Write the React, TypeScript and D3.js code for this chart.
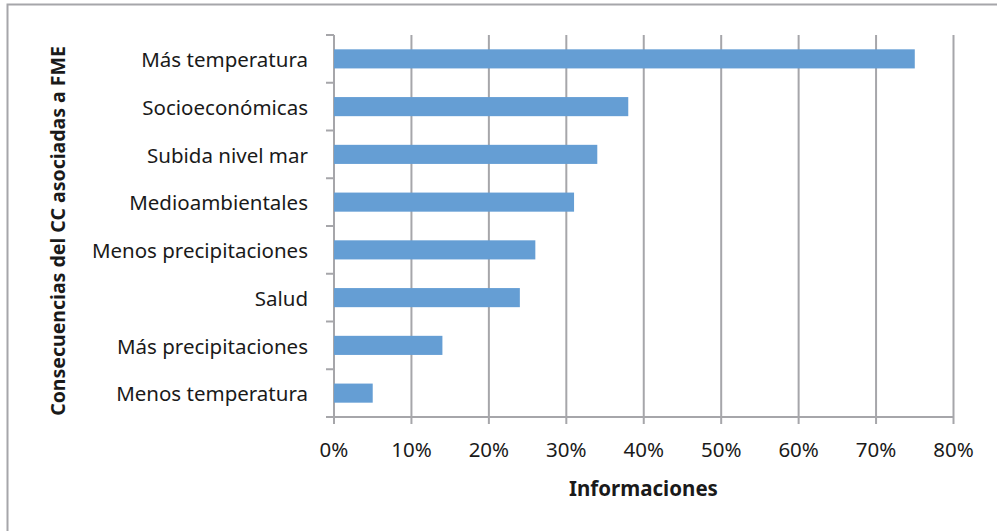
import React from "react";
import * as d3 from "d3";

const categories = [
  "Más temperatura",
  "Socioeconómicas",
  "Subida nivel mar",
  "Medioambientales",
  "Menos precipitaciones",
  "Salud",
  "Más precipitaciones",
  "Menos temperatura",
];
const values = [0.75, 0.38, 0.34, 0.31, 0.26, 0.24, 0.14, 0.05];
const xTicks = [0, 0.1, 0.2, 0.3, 0.4, 0.5, 0.6, 0.7, 0.8];
const xTitle = "Informaciones";
const yTitle = "Consecuencias del CC asociadas a FME";

const W = 997;
const H = 531;
const left = 334;
const right = 953.5;
const top = 35;
const bottom = 417;
const FONT = "'Noto Sans', 'Open Sans', sans-serif";
const GRID = "#a6a6aa";
const TEXT = "#1a1a1a";

export default function App() {
  const x = d3.scaleLinear().domain([0, 0.8]).range([left, right]);
  const y = d3.scaleBand().domain(categories).range([top, bottom]).paddingInner(0.6).paddingOuter(0.3);
  const yb = d3.scaleBand().domain(categories).range([top, bottom]);
  const fmt = d3.format(".0%");
  return (
    <svg
      width={W}
      height={H}
      style={{ position: "absolute", left: 0, top: 0, background: "#fff" }}
      fontFamily={FONT}
    >
      <rect x={7.5} y={4.5} width={W + 10} height={H + 10} fill="#fff" stroke={GRID} strokeWidth={2} />
      {xTicks.map((t) => (
        <g key={t}>
          <line x1={x(t)} x2={x(t)} y1={top} y2={bottom + 7} stroke={GRID} strokeWidth={2} />
          <text x={x(t)} y={457} textAnchor="middle" fontSize={20.5} fill={TEXT}>
            {fmt(t)}
          </text>
        </g>
      ))}
      <line x1={left - 8} x2={right} y1={bottom} y2={bottom} stroke={GRID} strokeWidth={2} />
      {categories.map((c, i) => (
        <line key={"t" + i} x1={left - 8} x2={left} y1={yb(c)!} y2={yb(c)!} stroke={GRID} strokeWidth={2} />
      ))}
      {categories.map((c, i) => (
        <g key={c}>
          <rect x={x(0)} y={y(c)!} width={x(values[i]) - x(0)} height={y.bandwidth()} fill="#659ed4" />
          <text
            x={308}
            y={yb(c)! + yb.bandwidth() / 2 + 1}
            dy="0.35em"
            textAnchor="end"
            fontSize={20.5}
            fill={TEXT}
          >
            {c}
          </text>
        </g>
      ))}
      <text x={643.5} y={496} textAnchor="middle" fontSize={20.5} fontWeight="bold" fill={TEXT}>
        {xTitle}
      </text>
      <text
        transform={`translate(58,231) rotate(-90)`}
        textAnchor="middle"
        dy="0.35em"
        fontSize={19.5}
        fontWeight="bold"
        fill={TEXT}
      >
        {yTitle}
      </text>
    </svg>
  );
}
